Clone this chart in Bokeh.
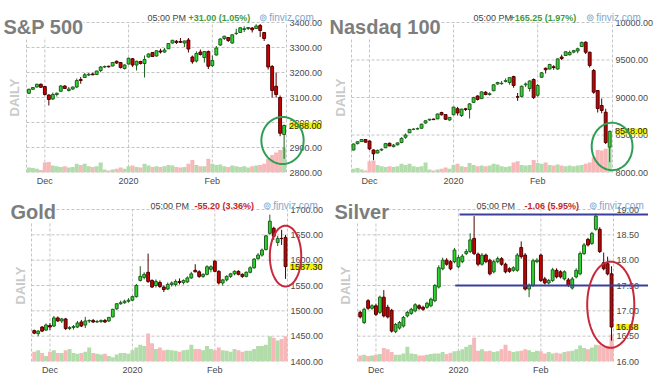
import numpy as np
from bokeh.plotting import figure
from bokeh.layouts import gridplot
from bokeh.models import (Range1d, FixedTicker, NumeralTickFormatter, Label, PolyAnnotation,
                          Arrow)
from bokeh.embed import file_html
from bokeh.resources import INLINE

# ---------------- data ----------------
# trading-session index, 0 = first session of December 2019 (Nov 25 .. Feb 28)
sessions = list(range(-4, 61))
month_ticks = [0, 21, 42]
month_labels = ["Dec", "2020", "Feb"]

spx_open = [3117, 3133, 3142, 3153,
            3144, 3110, 3094, 3112, 3125, 3146, 3128, 3134, 3142, 3172,
            3180, 3190, 3194, 3192, 3208, 3222, 3225, 3226, 3245, 3240, 3216,
            3234, 3255, 3230, 3244, 3236, 3262, 3280, 3266, 3286, 3282, 3295, 3318,
            3325, 3324, 3318, 3330, 3262, 3246, 3282, 3260, 3284,
            3228, 3270, 3310, 3336, 3340, 3318, 3356, 3360, 3372, 3376,
            3378, 3376, 3388, 3360, 3310, 3224, 3145, 3100, 2952]
spx_high = [3135, 3142, 3155, 3156,
            3146, 3113, 3120, 3120, 3150, 3149, 3142, 3144, 3176, 3182,
            3198, 3198, 3199, 3207, 3226, 3228, 3227, 3241, 3248, 3242, 3233,
            3259, 3258, 3247, 3247, 3268, 3277, 3282, 3288, 3295, 3298, 3317, 3330,
            3330, 3338, 3328, 3338, 3268, 3285, 3292, 3286, 3288,
            3268, 3306, 3337, 3347, 3342, 3352, 3375, 3381, 3385, 3382,
            3382, 3393, 3394, 3362, 3314, 3230, 3200, 3108, 2992]
spx_low = [3114, 3130, 3140, 3138,
           3108, 3068, 3090, 3104, 3122, 3134, 3124, 3130, 3138, 3155,
           3178, 3186, 3189, 3190, 3201, 3218, 3220, 3225, 3234, 3216, 3212,
           3232, 3222, 3208, 3232, 3180, 3260, 3262, 3264, 3276, 3279, 3294, 3316,
           3314, 3318, 3302, 3280, 3235, 3240, 3268, 3240, 3214,
           3222, 3268, 3306, 3330, 3322, 3315, 3350, 3358, 3362, 3370,
           3360, 3374, 3342, 3326, 3212, 3100, 3100, 2945, 2855]
spx_close = [3133, 3140, 3153, 3141,
             3112, 3092, 3112, 3117, 3146, 3136, 3134, 3142, 3168, 3168,
             3191, 3193, 3191, 3206, 3222, 3224, 3223, 3240, 3238, 3220, 3230,
             3257, 3230, 3245, 3236, 3252, 3274, 3264, 3287, 3282, 3290, 3316, 3329,
             3320, 3321, 3326, 3294, 3243, 3276, 3272, 3284, 3225,
             3248, 3298, 3334, 3345, 3328, 3351, 3357, 3379, 3375, 3380,
             3371, 3386, 3368, 3336, 3222, 3128, 3112, 2957, 2988]
spx_volume = [20, 18, 15, 10,
              40, 42, 28, 25, 22, 25, 20, 22, 35, 30, 35, 25, 22, 25, 40, 12, 8, 12, 15, 20, 15,
              25, 28, 22, 20, 35, 28, 22, 25, 22, 25, 30, 28, 22, 20, 22, 35, 50, 30, 25, 25, 55,
              35, 30, 32, 25, 22, 28, 25, 22, 25, 20, 25, 28, 30, 35, 55, 70, 80, 90, 100]
spx_ticks = [2800, 2900, 3000, 3100, 3200, 3300, 3400]

ndx_open = [8300, 8385, 8412, 8440,
            8420, 8300, 8260, 8300, 8330, 8390, 8345, 8370, 8400, 8470,
            8530, 8575, 8580, 8590, 8660, 8700, 8712, 8715, 8800, 8772, 8700,
            8770, 8850, 8760, 8850, 8840, 8935, 9020, 8985, 9070, 9040, 9090, 9180,
            9185, 9215, 9200, 9280, 9010, 9015, 9170, 9120, 9240,
            9030, 9270, 9390, 9380, 9410, 9380, 9540, 9560, 9570, 9605,
            9620, 9680, 9737, 9604, 9360, 9093, 8893, 8804, 8338]
ndx_high = [8385, 8415, 8445, 8445,
            8425, 8310, 8305, 8320, 8395, 8398, 8380, 8400, 8470, 8520,
            8580, 8590, 8600, 8650, 8695, 8715, 8718, 8785, 8810, 8775, 8740,
            8875, 8875, 8850, 8862, 8925, 9010, 9030, 9080, 9085, 9070, 9175, 9210,
            9220, 9255, 9270, 9290, 9060, 9160, 9200, 9230, 9255,
            9180, 9340, 9400, 9450, 9430, 9520, 9570, 9615, 9625, 9635,
            9665, 9745, 9750, 9610, 9380, 9100, 8987, 8850, 8560]
ndx_low = [8295, 8375, 8408, 8400,
           8300, 8165, 8255, 8285, 8325, 8350, 8335, 8360, 8390, 8450,
           8525, 8565, 8570, 8585, 8650, 8690, 8700, 8712, 8760, 8700, 8690,
           8765, 8760, 8740, 8820, 8720, 8930, 8960, 8980, 9030, 9025, 9085, 9170,
           9170, 9200, 9170, 9130, 8955, 9000, 9140, 9080, 8980,
           9010, 9260, 9320, 9375, 9370, 9370, 9500, 9555, 9560, 9590,
           9590, 9675, 9580, 9400, 9050, 8800, 8790, 8380, 8138]
ndx_close = [8380, 8410, 8440, 8405,
             8315, 8250, 8295, 8310, 8385, 8355, 8365, 8395, 8455, 8500,
             8575, 8578, 8585, 8645, 8690, 8710, 8705, 8780, 8770, 8710, 8735,
             8872, 8795, 8845, 8840, 8915, 9000, 8975, 9075, 9040, 9050, 9170, 9200,
             9190, 9225, 9265, 9160, 9005, 9150, 9180, 9220, 9000,
             9160, 9330, 9370, 9440, 9400, 9515, 9520, 9610, 9600, 9625,
             9650, 9735, 9604, 9427, 9071, 8853, 8827, 8400, 8548]
ndx_volume = [15, 18, 12, 8,
              45, 48, 30, 25, 22, 25, 22, 25, 35, 30, 35, 25, 22, 25, 40, 12, 8, 12, 15, 20, 15,
              30, 35, 25, 22, 38, 30, 25, 28, 25, 28, 35, 32, 25, 22, 25, 40, 45, 30, 28, 30, 50,
              38, 35, 40, 30, 28, 32, 28, 25, 28, 25, 28, 30, 35, 40, 60, 90, 88, 95, 100]
ndx_ticks = [8000, 8500, 9000, 9500, 10000]

gold_open = [1461, 1455, 1468, 1462,
             1471, 1470, 1486, 1480, 1484, 1465, 1467, 1468, 1478, 1472,
             1480, 1481, 1478, 1479, 1481, 1480, 1488, 1504, 1514, 1516, 1519,
             1521, 1528, 1560, 1566, 1576, 1560, 1550, 1556, 1547, 1543, 1552, 1552,
             1558, 1556, 1557, 1565, 1580, 1577, 1568, 1572, 1582,
             1598, 1578, 1555, 1561, 1568, 1573, 1578, 1572, 1568, 1576,
             1585, 1603, 1610, 1621, 1653, 1663, 1635, 1643, 1645]
gold_high = [1463, 1462, 1470, 1475,
             1476, 1490, 1489, 1486, 1486, 1470, 1472, 1480, 1482, 1488,
             1483, 1484, 1482, 1483, 1484, 1488, 1504, 1515, 1520, 1522, 1525,
             1530, 1553, 1588, 1576, 1613, 1562, 1562, 1560, 1550, 1556, 1558, 1562,
             1564, 1562, 1568, 1577, 1592, 1580, 1574, 1590, 1590,
             1600, 1580, 1563, 1570, 1575, 1580, 1580, 1574, 1578, 1588,
             1604, 1614, 1623, 1650, 1690, 1666, 1648, 1660, 1650]
gold_low = [1454, 1450, 1458, 1460,
            1462, 1468, 1478, 1476, 1462, 1462, 1463, 1466, 1468, 1466,
            1476, 1476, 1476, 1476, 1476, 1478, 1487, 1502, 1512, 1514, 1516,
            1519, 1526, 1558, 1562, 1555, 1545, 1546, 1545, 1537, 1541, 1548, 1548,
            1552, 1552, 1555, 1563, 1576, 1565, 1565, 1570, 1576,
            1576, 1552, 1550, 1558, 1565, 1570, 1570, 1565, 1566, 1574,
            1583, 1601, 1607, 1619, 1650, 1640, 1628, 1630, 1563]
gold_close = [1456, 1460, 1460, 1472,
              1468, 1486, 1480, 1484, 1465, 1467, 1469, 1476, 1470, 1480,
              1481, 1478, 1479, 1481, 1478, 1487, 1503, 1514, 1516, 1519, 1521,
              1528, 1550, 1568, 1572, 1558, 1547, 1558, 1548, 1542, 1552, 1555, 1558,
              1556, 1560, 1565, 1573, 1577, 1568, 1572, 1587, 1587,
              1578, 1555, 1561, 1568, 1573, 1578, 1572, 1568, 1576, 1585,
              1602, 1610, 1620, 1648, 1677, 1647, 1643, 1642.5, 1587.3]
gold_volume = [35, 40, 30, 20,
               35, 40, 30, 30, 40, 45, 30, 28, 30, 35, 50, 30, 28, 25, 28, 20, 15, 25, 30, 30, 28,
               40, 50, 60, 55, 100, 65, 45, 50, 40, 42, 40, 38, 35, 40, 42, 60, 45, 45, 40, 55, 45,
               40, 50, 40, 38, 35, 45, 40, 35, 38, 38, 45, 55, 55, 60, 90, 85, 75, 80, 90]
gold_ticks = [1400, 1450, 1500, 1550, 1600, 1650, 1700]

silver_open = [16.97, 16.77, 17.20, 17.05, 17.10, 16.97, 17.27, 17.07, 17.01, 16.59,
               16.66, 16.70, 16.90, 16.95, 17.00, 17.10, 17.07, 17.07, 17.10, 17.20,
               17.47, 17.83, 18.00, 17.97, 17.97, 17.87, 17.97, 18.13, 18.17, 18.43,
               18.12, 17.92, 18.10, 18.00, 17.77, 17.97, 18.03, 17.92, 17.83, 17.80,
               17.80, 18.25, 18.10, 17.43, 17.50, 17.97, 18.10, 17.63, 17.55, 17.60,
               17.80, 17.77, 17.63, 17.61, 17.45, 17.67, 17.73, 18.13, 18.41, 18.33,
               18.61, 18.61, 17.95, 17.93, 17.73]
silver_high = [17.00, 17.06, 17.23, 17.13, 17.14, 17.30, 17.41, 17.12, 17.04, 16.76,
               16.80, 16.90, 17.00, 17.06, 17.15, 17.13, 17.10, 17.18, 17.26, 17.53,
               17.90, 18.05, 18.04, 18.00, 18.24, 18.10, 18.12, 18.22, 18.53, 18.87,
               18.15, 18.14, 18.13, 18.03, 18.01, 18.07, 18.06, 17.95, 17.86, 17.88,
               18.14, 18.37, 18.14, 17.54, 18.03, 18.04, 18.13, 17.67, 17.63, 17.85,
               17.84, 17.80, 17.80, 17.65, 17.67, 17.84, 18.17, 18.34, 18.44, 18.56,
               18.92, 18.65, 18.15, 18.07, 17.88]
silver_low = [16.85, 16.74, 17.02, 17.02, 16.90, 16.94, 16.87, 16.85, 16.57, 16.56,
              16.63, 16.67, 16.87, 16.92, 16.97, 17.02, 17.00, 17.04, 17.07, 17.17,
              17.44, 17.80, 17.89, 17.80, 17.94, 17.84, 17.94, 18.10, 18.14, 18.10,
              17.88, 17.89, 17.94, 17.70, 17.74, 17.94, 17.89, 17.74, 17.75, 17.77,
              17.77, 18.03, 17.40, 17.27, 17.47, 17.94, 17.57, 17.52, 17.52, 17.57,
              17.64, 17.64, 17.60, 17.47, 17.42, 17.64, 17.70, 18.10, 18.27, 18.30,
              18.58, 18.14, 17.80, 17.70, 16.41]
silver_close = [16.88, 17.03, 17.05, 17.10, 16.93, 17.27, 16.90, 16.88, 16.60, 16.73,
                16.77, 16.87, 16.97, 17.03, 17.12, 17.05, 17.03, 17.15, 17.23, 17.50,
                17.85, 18.00, 17.92, 17.83, 18.20, 18.05, 18.08, 18.17, 18.40, 18.13,
                17.92, 18.10, 17.97, 17.73, 17.97, 18.03, 17.92, 17.77, 17.78, 17.85,
                18.10, 18.07, 17.43, 17.50, 17.99, 18.00, 17.60, 17.55, 17.60, 17.81,
                17.67, 17.67, 17.77, 17.50, 17.63, 17.80, 18.13, 18.30, 18.30, 18.53,
                18.87, 18.17, 17.83, 17.73, 16.68]
silver_volume = [22, 25, 20, 22, 25, 28, 50, 45, 35, 25, 25, 30, 55, 30, 28, 22, 22, 25, 28, 30,
                 30, 35, 28, 32, 38, 40, 45, 55, 62, 88, 40, 45, 38, 40, 35, 38, 45, 62, 40, 35,
                 38, 40, 45, 42, 35, 40, 38, 30, 35, 30, 32, 30, 35, 38, 40, 45, 59, 50, 45, 52,
                 62, 60, 55, 58, 100]
silver_ticks = [16.0, 16.5, 17.0, 17.5, 18.0, 18.5, 19.0]
silver_levels = [18.90, 17.50]
silver_level_starts = [21.3, 20.2]

# ---------------- style ----------------
FONT = "Liberation Sans"
UP_FILL, UP_LINE = "#2fd62f", "#1f5e1f"
DN_FILL, DN_LINE = "#c90000", "#4d0000"
VOL_UP, VOL_DN = "#b2dcaa", "#f6b8b8"
GRID = "#c4c4c4"
XAXIS_H = 14


def panel(title, o, h, l, c, vol, ticks, xr, W, H, L, R, T, vol_px,
          change, change_color, last_text, hx, title_xy, daily_x):
    fh = H - XAXIS_H
    ppd = (R - L) / (xr[1] - xr[0])          # pixels per session
    ppu = (fh - T) / (ticks[-1] - ticks[0])   # pixels per price unit
    x_range = Range1d(xr[0] - L / ppd, xr[1] + (W - R) / ppd)
    y_range = Range1d(ticks[0], ticks[-1] + T / ppu)
    p = figure(frame_width=W, frame_height=fh, x_range=x_range, y_range=y_range,
               output_backend="svg", toolbar_location=None, tools="",
               y_axis_location="right", min_border=0)
    p.background_fill_color = "white"
    p.border_fill_color = "white"
    p.outline_line_color = None
    p.grid.grid_line_color = None
    p.extra_y_ranges = {"vol": Range1d(0, 100 * fh / vol_px)}

    # dashed price-area grid (horizontal at price ticks, vertical at month ticks and edges)
    p.segment(x0=[xr[0]] * len(ticks), x1=[xr[1]] * len(ticks), y0=ticks, y1=ticks,
              line_color=GRID, line_dash="3 2", line_width=1)
    vx = [xr[0]] + month_ticks + [xr[1]]
    p.segment(x0=vx, x1=vx, y0=[ticks[0]] * len(vx), y1=[ticks[-1]] * len(vx),
              line_color=GRID, line_dash="3 2", line_width=1)

    up = [cc >= oo for oo, cc in zip(o, c)]
    p.vbar(x=sessions, width=1.0, top=vol, bottom=0, y_range_name="vol",
           fill_color=[VOL_UP if u else VOL_DN for u in up], line_color=None)
    p.segment(x0=sessions, y0=h, x1=sessions, y1=l,
              line_color=[UP_LINE if u else DN_LINE for u in up], line_width=1)
    p.vbar(x=sessions, width=0.72,
           top=[max(a, b) for a, b in zip(o, c)], bottom=[min(a, b) for a, b in zip(o, c)],
           fill_color=[UP_FILL if u else DN_FILL for u in up],
           line_color=[UP_LINE if u else DN_LINE for u in up], line_width=1)

    for ax in (p.xaxis[0], p.yaxis[0]):
        ax.axis_line_color = None
        ax.major_tick_line_color = None
        ax.minor_tick_line_color = None
        ax.major_tick_out = 0
        ax.major_tick_in = 0
        ax.major_label_text_font = FONT
        ax.major_label_text_font_size = "9px"
        ax.major_label_text_color = "#4a4a4a"
    p.xaxis.major_label_standoff = 3
    p.yaxis.major_label_standoff = -(W - R - 3)
    p.yaxis.ticker = FixedTicker(ticks=ticks)
    p.yaxis.formatter = NumeralTickFormatter(format="0.00")
    p.xaxis.ticker = FixedTicker(ticks=month_ticks)
    p.xaxis.major_label_overrides = {t: s for t, s in zip(month_ticks, month_labels)}

    # last price tag
    p.add_layout(Label(x=xr[1], y=c[-1], x_offset=2.5, text=last_text, text_font=FONT,
                       text_font_size="9px", text_color="#222222", text_baseline="middle",
                       background_fill_color="#f2f200"))
    # header
    p.add_layout(Label(x=title_xy[0], y=title_xy[1], x_units="canvas", y_units="canvas",
                       text=title, text_font=FONT, text_font_size="20px",
                       text_font_style="bold", text_color="#7d7d7d",
                       text_baseline="alphabetic", background_fill_color="white"))
    p.add_layout(Label(x=hx[0], y=17, x_units="canvas", y_units="canvas", text="05:00 PM",
                       text_font=FONT, text_font_size="9px", text_color="#444444",
                       text_baseline="alphabetic"))
    p.add_layout(Label(x=hx[1], y=17, x_units="canvas", y_units="canvas", text=change,
                       text_font=FONT, text_font_size="9px", text_font_style="bold",
                       text_color=change_color, text_baseline="alphabetic"))
    p.add_layout(Label(x=hx[2], y=17, x_units="canvas", y_units="canvas",
                       text="\u229a finviz.com", text_font=FONT, text_font_size="10px",
                       text_color="#7fa6c9", text_baseline="alphabetic"))
    p.add_layout(Label(x=daily_x, y=T + (fh - T) / 2, x_units="canvas", y_units="canvas",
                       text="DAILY", angle=90, angle_units="deg", text_align="center",
                       text_baseline="middle", text_font=FONT, text_font_size="13px",
                       text_font_style="bold", text_color="#cacaca"))
    return p


def ring(p, cx, cy, rx, ry, color):
    t = np.linspace(0, 2 * np.pi, 73)
    p.add_layout(PolyAnnotation(xs=list(cx + rx * np.cos(t)), ys=list(cy + ry * np.sin(t)),
                                fill_color=None, fill_alpha=0, line_color=color,
                                line_alpha=1.0, line_width=2))


p1 = panel("S&P 500", spx_open, spx_high, spx_low, spx_close, spx_volume, spx_ticks,
           (-4.6, 60.6), 322, 186, 26, 286, 22, 25, "+31.00 (1.05%)", "#3f9b3f", "2988.00",
           (147, 188, 258), (3, 26), 14)
ring(p1, 59.6, 2928, 5.3, 94, "#2f9e55")

p2 = panel("Nasdaq 100", ndx_open, ndx_high, ndx_low, ndx_close, ndx_volume, ndx_ticks,
           (-4.5, 60.7), 322, 186, 25, 286, 22, 25, "+165.25 (1.97%)", "#3f9b3f", "8548.00",
           (147, 183, 259), (3, 26), 14)
ring(p2, 60.6, 8347, 5.1, 316, "#2f9e55")

p3 = panel("Gold", gold_open, gold_high, gold_low, gold_close, gold_volume, gold_ticks,
           (-4.7, 60.5), 322, 187, 31, 287, 21, 28, "-55.20 (3.36%)", "#c0282d", "1587.30",
           (150, 194, 262), (10, 23), 20)
ring(p3, 60.0, 1608, 4.0, 60, "#c8283a")

p4 = panel("Silver", silver_open, silver_high, silver_low, silver_close, silver_volume,
           silver_ticks, (-4.7, 60.5), 322, 187, 31, 287, 21, 27, "-1.06 (5.95%)", "#c0282d",
           "16.68", (150, 198, 262), (8, 23), 19)
for lvl, xs in zip(silver_levels, silver_level_starts):
    p4.add_layout(Arrow(end=None, x_start=xs, y_start=lvl, x_end=p4.x_range.end, y_end=lvl,
                        line_color="#3b3f9c", line_width=2))
ring(p4, 59.8, 17.12, 6.0, 0.85, "#c8283a")

grid = gridplot([[p1, p2], [p3, p4]], toolbar_location=None)
open("out.html", "w").write(file_html(grid, INLINE))
